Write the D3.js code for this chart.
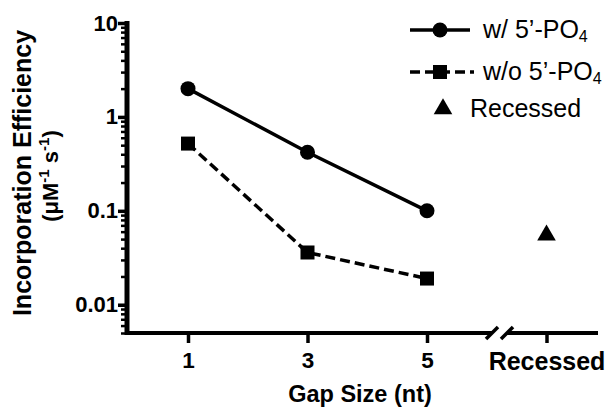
<!DOCTYPE html>
<html>
<head>
<meta charset="utf-8">
<script src="https://cdn.jsdelivr.net/npm/d3@7"></script>
<style>
body { margin: 0; background: #fff; }
svg { font-family: "Liberation Sans", Arial, sans-serif; }
</style>
</head>
<body>
<div class="chart"></div>
<script>
// data
const gapSizes = [1, 3, 5];
const withPO4 = [2.0, 0.42, 0.1];
const withoutPO4 = [0.52, 0.036, 0.019];
const recessedX = 7;
const recessedValue = [0.055];
const xTickValues = [1, 3, 5, 7];
const xTickLabels = ['1', '3', '5', 'Recessed'];
const yMajorTicks = [0.01, 0.1, 1, 10];
const yTickLabels = ['0.01', '0.1', '1', '10'];

const width = 612, height = 410;
const svg = d3.select('.chart').append('svg')
    .attr('width', width).attr('height', height);

const xScale = d3.scaleLinear().domain([1, 5]).range([188, 427]);
const yScale = d3.scaleLog().domain([0.005, 10]).range([333, 23]);

const xLeft = 127;      // where the y axis sits
const yBottom = 333;    // where the x axis sits
const fontFam = '"Liberation Sans", Arial, sans-serif';

// minor ticks of the log axis
const yMinorTicks = [];
[0.001, 0.01, 0.1, 1].forEach(base => {
    for (let k = 2; k <= 9; k++) {
        const v = base * k;
        if (v >= 0.005 && v < 10) yMinorTicks.push(v);
    }
});

// y axis, minor ticks
svg.append('g')
    .attr('transform', `translate(${xLeft},0)`)
    .call(d3.axisLeft(yScale).tickValues(yMinorTicks).tickFormat('').tickSize(6).tickSizeOuter(0))
    .call(g => g.select('.domain').remove())
    .call(g => g.selectAll('line').attr('stroke', '#000').attr('stroke-width', 2.5));

// y axis, major ticks
const yAxisG = svg.append('g')
    .attr('transform', `translate(${xLeft},0)`)
    .call(d3.axisLeft(yScale).tickValues(yMajorTicks)
        .tickFormat((d, i) => yTickLabels[i]).tickSize(9).tickSizeOuter(0).tickPadding(0));
yAxisG.select('.domain').remove();
yAxisG.selectAll('line').attr('stroke', '#000').attr('stroke-width', 3.5);
yAxisG.selectAll('text')
    .attr('font-size', 22).attr('font-weight', 'bold').attr('fill', '#000')
    .attr('font-family', fontFam);

svg.append('line')
    .attr('x1', xLeft).attr('x2', xLeft)
    .attr('y1', yScale(10) - 2).attr('y2', yBottom + 2)
    .attr('stroke', '#000').attr('stroke-width', 5);

// x axis with a break before "Recessed"
const breakA = 492, breakB = 507;
const xAxisG = svg.append('g')
    .attr('transform', `translate(0,${yBottom})`)
    .call(d3.axisBottom(xScale).tickValues(xTickValues)
        .tickFormat((d, i) => xTickLabels[i]).tickSize(10).tickSizeOuter(0).tickPadding(9));
xAxisG.select('.domain').remove();
xAxisG.selectAll('line').attr('stroke', '#000').attr('stroke-width', 3.5);
xAxisG.selectAll('text')
    .attr('font-size', (d, i) => i === 3 ? 25 : 22.5).attr('font-weight', 'bold').attr('fill', '#000')
    .attr('font-family', fontFam);

svg.append('line')
    .attr('x1', xLeft).attr('x2', breakA)
    .attr('y1', yBottom).attr('y2', yBottom)
    .attr('stroke', '#000').attr('stroke-width', 4);
svg.append('line')
    .attr('x1', breakB).attr('x2', 598)
    .attr('y1', yBottom).attr('y2', yBottom)
    .attr('stroke', '#000').attr('stroke-width', 4);
[breakA, breakB].forEach(bx => {
    svg.append('line')
        .attr('x1', bx - 6).attr('x2', bx + 6)
        .attr('y1', yBottom + 6).attr('y2', yBottom - 6)
        .attr('stroke', '#000').attr('stroke-width', 3.5);
});

// axis titles
svg.append('text')
    .attr('transform', `translate(31,173) rotate(-90)`)
    .attr('text-anchor', 'middle')
    .attr('font-size', 25).attr('font-weight', 'bold')
    .text('Incorporation Efficiency');
const unit = svg.append('text')
    .attr('transform', `translate(58,176) rotate(-90)`)
    .attr('text-anchor', 'middle')
    .attr('font-size', 22).attr('font-weight', 'bold');
unit.append('tspan').text('(\u03bcM');
unit.append('tspan').text('-1').attr('font-size', 15).attr('dy', -9);
unit.append('tspan').text(' s').attr('dy', 9);
unit.append('tspan').text('-1').attr('font-size', 15).attr('dy', -9);
unit.append('tspan').text(')').attr('dy', 9);

svg.append('text')
    .attr('x', 360).attr('y', 402)
    .attr('text-anchor', 'middle')
    .attr('font-size', 23.5).attr('font-weight', 'bold')
    .text('Gap Size (nt)');

// series
const line = d3.line().x(d => xScale(d[0])).y(d => yScale(d[1]));
const withData = gapSizes.map((g, i) => [g, withPO4[i]]);
const withoutData = gapSizes.map((g, i) => [g, withoutPO4[i]]);

svg.append('path').datum(withData)
    .attr('d', line).attr('fill', 'none')
    .attr('stroke', '#000').attr('stroke-width', 3.5);
svg.append('path').datum(withoutData)
    .attr('d', line).attr('fill', 'none')
    .attr('stroke', '#000').attr('stroke-width', 3.5)
    .attr('stroke-dasharray', '10,5');

svg.selectAll('.pt-with').data(withData).enter()
    .append('circle').attr('class', 'pt-with')
    .attr('cx', d => xScale(d[0])).attr('cy', d => yScale(d[1]))
    .attr('r', 7.5).attr('fill', '#000');

svg.selectAll('.pt-without').data(withoutData).enter()
    .append('rect').attr('class', 'pt-without')
    .attr('x', d => xScale(d[0]) - 7).attr('y', d => yScale(d[1]) - 7)
    .attr('width', 14).attr('height', 14).attr('fill', '#000');

const tri = d3.symbol().type(d3.symbolTriangle).size(150);
svg.selectAll('.pt-rec').data(recessedValue).enter()
    .append('path').attr('class', 'pt-rec')
    .attr('d', tri)
    .attr('transform', d => `translate(${xScale(recessedX)},${yScale(d)})`)
    .attr('fill', '#000');

// legend
const legend = svg.append('g');
const addPO4 = (t, label, x, y) => {
    const el = t.append('text').attr('x', x).attr('y', y)
        .attr('font-size', 25).attr('dominant-baseline', 'middle');
    el.append('tspan').text(label);
    el.append('tspan').text('4').attr('font-size', 16).attr('dy', 7);
};
legend.append('line').attr('x1', 410).attr('x2', 470).attr('y1', 30).attr('y2', 30)
    .attr('stroke', '#000').attr('stroke-width', 3.5);
legend.append('circle').attr('cx', 440).attr('cy', 30).attr('r', 7.5).attr('fill', '#000');
addPO4(legend, 'w/ 5\u2019-PO', 483, 31);

legend.append('line').attr('x1', 410).attr('x2', 474).attr('y1', 72).attr('y2', 72)
    .attr('stroke', '#000').attr('stroke-width', 3.5).attr('stroke-dasharray', '10,5');
legend.append('rect').attr('x', 433).attr('y', 65).attr('width', 14).attr('height', 14).attr('fill', '#000');
addPO4(legend, 'w/o 5\u2019-PO', 483, 73);

legend.append('path').attr('d', tri).attr('transform', 'translate(443,109)').attr('fill', '#000');
legend.append('text').attr('x', 470).attr('y', 110)
    .attr('font-size', 25).attr('dominant-baseline', 'middle')
    .text('Recessed');
</script>
</body>
</html>
